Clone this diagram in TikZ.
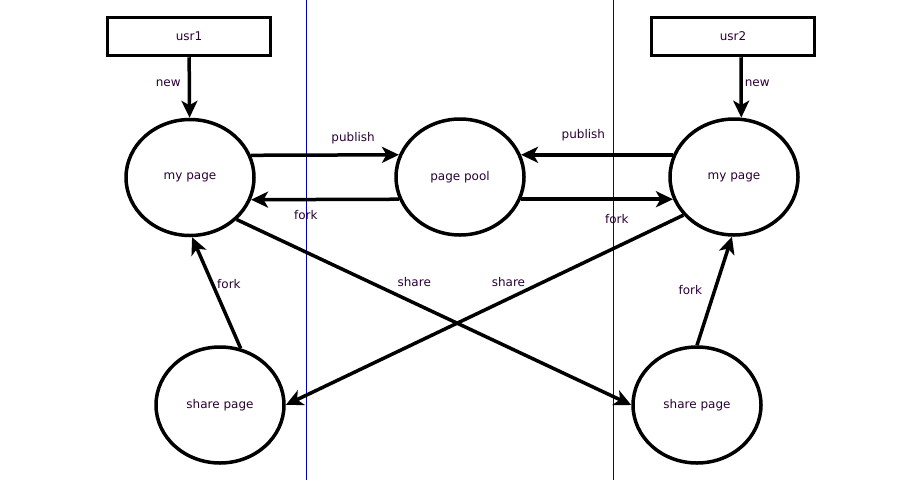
\documentclass[tikz,border=0pt]{standalone}
\usepackage{fontspec}
\setmainfont{DejaVu Sans}
\usetikzlibrary{arrows.meta,shapes.geometric,positioning}
\definecolor{txtcol}{RGB}{40,0,50}
\definecolor{lanecol}{RGB}{0,0,170}
\tikzset{
    page/.style ={ellipse, draw, minimum width=128pt, minimum height=116pt, inner sep=0pt},
    usr/.style = {rectangle, draw, minimum width=163pt, minimum height=38pt},
    el/.style = {inner sep=2pt},
    lane/.style = {-, draw=lanecol, line width=1pt}
}
\begin{document}
\begin{tikzpicture}[x=1pt,y=-1pt,line width=3.5pt,-{Stealth[length=17pt,width=16pt,inset=4.5pt]},
    font=\fontsize{12}{14}\selectfont,text=txtcol]
	\useasboundingbox (0,0) rectangle (920,480);
	% separators
	\draw[lane] (306.5,0) -- (306.5,480);
	\draw[lane] (613.5,0) -- (613.5,480);

	\node[usr] (u1) at (189,36.5) {usr1};
	\node[usr] (u2) at (733,36.5) {usr2};
	\node[page] (mp1) at (190,177.5) {my page};
	\node[page] (pool) at (460,177) {page pool};
	\node[page] (mp2) at (734,177) {my page};
	\node[page] (sp1) at (220,405) {share page};
	\node[page] (sp2) at (697,405) {share page};

	\path (u1) edge node[el,pos=.43,left=5pt] {new} (mp1);
	\path ([xshift=8pt]u2.south) edge node[el,pos=.43,right=0pt] {new} (mp2.83);
	\path (mp1.20) edge node[el,pos=.69,above=7pt] {publish} (pool.160);
	\path (pool.200) edge node[el,pos=.63,below=7pt] {fork} (mp1.-20);
	\path (mp2.160) edge node[el,pos=.59,above=10pt] {publish} (pool.20);
	\path (pool.-20) edge node[el,pos=.63,below=11pt] {fork} (mp2.200);
	\path (sp1.70) edge node[el,pos=.58,right=1pt] {fork} (mp1.-88);
	\path (sp2.north) edge node[el,pos=.51,left=9pt] {fork} (mp2.-92);
	\path (mp1.-42) edge node[el,pos=.45,above=13pt] {share} (sp2.west);
	\path (mp2.-143) edge node[el,pos=.44,above=8pt] {share} (sp1.east);
\end{tikzpicture}
\end{document}
